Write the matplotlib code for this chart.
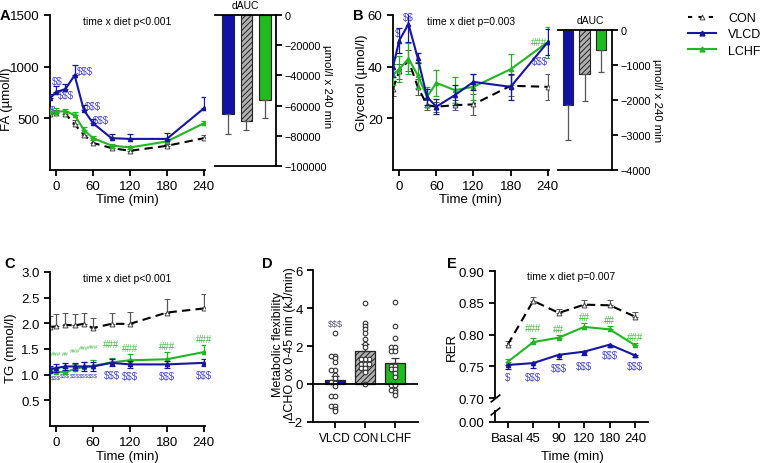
import numpy as np
import matplotlib
matplotlib.use("Agg")
import matplotlib.pyplot as plt
from matplotlib.lines import Line2D

plt.rcParams['font.family'] = ['Liberation Sans', 'DejaVu Sans']
plt.rcParams['font.size'] = 9.5
plt.rcParams['axes.linewidth'] = 1.3
plt.rcParams['xtick.major.width'] = 1.3
plt.rcParams['ytick.major.width'] = 1.3
plt.rcParams['xtick.major.size'] = 4
plt.rcParams['ytick.major.size'] = 4
plt.rcParams['xtick.labelsize'] = 9.5
plt.rcParams['ytick.labelsize'] = 9.5
plt.rcParams['hatch.linewidth'] = 0.7
plt.rcParams['text.parse_math'] = False

# ---- data ----
time = [-10, 0, 15, 30, 45, 60, 90, 120, 180, 240]
groups = ['VLCD', 'CON', 'LCHF']

fa_con = [545, 555, 545, 442, 340, 262, 212, 186, 234, 308]
fa_con_err = [30, 30, 25, 40, 25, 25, 20, 15, 15, 30]
fa_vlcd = [692, 756, 782, 917, 580, 452, 308, 301, 301, 596]
fa_vlcd_err = [40, 60, 55, 100, 45, 40, 40, 45, 60, 110]
fa_lchf = [558, 564, 570, 532, 388, 308, 237, 218, 276, 452]
fa_lchf_err = [30, 35, 20, 30, 25, 20, 15, 15, 20, 20]
fa_auc = [-65500, -70000, -56000]          # VLCD, CON, LCHF
fa_auc_err = [13500, 6000, 12000]

gly_con = [31.5, 38.2, 42.4, 32.2, 25.1, 24.5, 25.1, 25.4, 32.6, 32.2]
gly_con_err = [3, 3, 4, 3, 2, 2, 2, 4, 4, 5]
gly_vlcd = [39.9, 50.1, 56.5, 43.3, 28.3, 24.5, 29.0, 34.1, 32.2, 49.5]
gly_vlcd_err = [4, 5, 7, 2, 3, 3, 4, 3, 5, 5]
gly_lchf = [36.9, 39.0, 43.1, 36.7, 28.3, 33.7, 30.9, 32.2, 39.0, 49.5]
gly_lchf_err = [4, 5, 6, 5, 4, 5, 5, 5, 6, 6]
gly_auc = [-2140, -1260, -570]
gly_auc_err = [1000, 770, 630]

tg_con = [1.93, 1.94, 1.97, 1.96, 1.99, 1.91, 1.99, 1.99, 2.21, 2.29]
tg_con_err = [0.22, 0.24, 0.24, 0.22, 0.22, 0.20, 0.22, 0.24, 0.26, 0.28]
tg_vlcd = [1.10, 1.13, 1.16, 1.16, 1.16, 1.16, 1.23, 1.20, 1.20, 1.23]
tg_vlcd_err = [0.06, 0.07, 0.07, 0.07, 0.08, 0.08, 0.07, 0.07, 0.07, 0.07]
tg_lchf = [1.07, 1.05, 1.05, 1.11, 1.15, 1.17, 1.24, 1.28, 1.30, 1.44]
tg_lchf_err = [0.08, 0.08, 0.08, 0.10, 0.10, 0.12, 0.08, 0.12, 0.14, 0.14]

flex_vlcd = [2.68, 1.5, 1.5, 1.38, 1.15, 0.76, 0.76, 0.5, 0.32, 0.08, 0.04,
             -0.12, -0.65, -0.65, -1.18, -1.18, -1.32, -1.43]
flex_con = [4.25, 3.2, 3.03, 2.87, 2.7, 2.35, 2.12, 1.93, 1.32, 1.32, 1.32,
            1.06, 1.06, 1.06, 0.83, 0.83, 0.62, 0.0]
flex_lchf = [4.32, 3.05, 2.43, 1.94, 1.94, 1.76, 1.76, 0.93, 0.93, 0.8, 0.8,
             0.58, 0.35, -0.05, -0.05, -0.3, -0.3, -0.44, -0.56]
flex_mean = [0.23, 1.75, 1.08]
flex_err = [0.2, 0.33, 0.3]

rer_labels = ['Basal', '45', '90', '120', '180', '240']
rer_con = [0.784, 0.853, 0.834, 0.847, 0.846, 0.828]
rer_con_err = [0.006, 0.006, 0.006, 0.007, 0.008, 0.007]
rer_lchf = [0.757, 0.788, 0.795, 0.812, 0.808, 0.783]
rer_lchf_err = [0.005, 0.007, 0.005, 0.006, 0.005, 0.004]
rer_vlcd = [0.752, 0.755, 0.768, 0.773, 0.784, 0.767]
rer_vlcd_err = [0.006, 0.008, 0.006, 0.006, 0.004, 0.003]

# ---- styles ----
BLUE = '#16169e'
GREEN = '#22b622'
BAR_BLUE = '#1212a8'
BAR_GREEN = '#1fbb1f'
ANN_BLUE = '#4b4bd6'
ANN_GREEN = '#3cbf3c'
ERR_GRAY = '#555555'

W, H = 760, 464
fig = plt.figure(figsize=(W / 100, H / 100), dpi=100)


def box(l, t, r, b):
    return [l / W, 1 - b / H, (r - l) / W, (b - t) / H]


def ftext(x, y, s, **kw):
    fig.text(x / W, 1 - y / H, s, **kw)


def clean(ax):
    ax.spines['top'].set_visible(False)
    ax.spines['right'].set_visible(False)


def upper(err):
    return [np.zeros(len(err)), err]


def lower(err):
    return [err, np.zeros(len(err))]


def draw_lines(ax, x, con, con_e, vlcd, vlcd_e, lchf, lchf_e):
    ax.errorbar(x, con, yerr=con_e, color='black', ls=(0, (4, 2.5)), lw=1.5,
                marker='^', ms=3.5, mfc='white', mec='#444444', mew=0.7,
                ecolor=ERR_GRAY, elinewidth=0.9, capsize=2.2, capthick=0.9, zorder=2)
    ax.errorbar(x, lchf, yerr=lchf_e, color=GREEN, lw=1.5, marker='^', ms=3,
                ecolor=GREEN, elinewidth=0.9, capsize=2.2, capthick=0.9, zorder=3)
    ax.errorbar(x, vlcd, yerr=vlcd_e, color=BLUE, lw=1.5, marker='^', ms=3,
                ecolor=BLUE, elinewidth=0.9, capsize=2.2, capthick=0.9, zorder=4)


def annot(ax, x, y, s, dx, dy, color, size=7):
    ax.annotate(s, (x, y), xytext=(dx, dy), textcoords='offset pixels',
                ha='center', va='center', color=color, fontsize=size)


def auc_inset(ax, vals, errs, ticks, ylim):
    cols = [BAR_BLUE, '#b0b0b0', BAR_GREEN]
    hatches = [None, '//////', None]
    for i, (v, e) in enumerate(zip(vals, errs)):
        ax.bar(i, v, width=0.62, color=cols[i], edgecolor='#222222', lw=0.8,
               hatch=hatches[i], zorder=2)
        ax.errorbar(i, v, yerr=[[e], [0]], color=ERR_GRAY, elinewidth=0.9,
                    capsize=2.2, capthick=0.9, zorder=3)
    ax.set_ylim(ylim)
    ax.set_yticks(ticks)
    ax.yaxis.tick_right()
    ax.tick_params(axis='y', labelsize=7.8, pad=2)
    ax.set_xticks([])
    ax.spines['left'].set_visible(False)
    ax.spines['top'].set_visible(True)


# ---------------- A ----------------
axA = fig.add_axes(box(50, 16, 205, 171))
draw_lines(axA, time, fa_con, upper(fa_con_err), fa_vlcd, upper(fa_vlcd_err),
           fa_lchf, upper(fa_lchf_err))
axA.set_xlim(-10, 242)
axA.set_ylim(0, 1500)
axA.set_xticks([0, 60, 120, 180, 240])
axA.set_yticks([500, 1000, 1500])
clean(axA)
axA.set_title('time x diet p<0.001', fontsize=7.5, y=0.94, pad=0)
for i, s, dx, dy in [(0, '$', 3, -12), (1, '$$', 1, 11), (2, '$$$', 1, -6),
                     (3, '$$$', 10, 4), (4, '$$$', 9, 4), (5, '$$$', 8, 3)]:
    annot(axA, time[i], fa_vlcd[i], s, dx, dy, ANN_BLUE)

axAi = fig.add_axes(box(215, 16, 276, 167))
auc_inset(axAi, fa_auc, fa_auc_err, [0, -20000, -40000, -60000, -80000, -100000],
          (-100000, 0))
axAi.set_xlim(-0.7, 2.6)

# ---------------- B ----------------
axB = fig.add_axes(box(393, 16, 549, 171))
draw_lines(axB, time, gly_con, gly_con_err, gly_vlcd, gly_vlcd_err,
           gly_lchf, gly_lchf_err)
axB.set_xlim(-10, 242)
axB.set_ylim(0, 60)
axB.set_xticks([0, 60, 120, 180, 240])
axB.set_yticks([20, 40, 60])
clean(axB)
axB.set_title('time x diet p=0.003', fontsize=7.5, y=0.94, pad=0)
annot(axB, time[1], gly_vlcd[1], '$', -2, 8, ANN_BLUE)
annot(axB, time[2], gly_vlcd[2], '$$', 0, 7, ANN_BLUE)
annot(axB, time[9], gly_lchf[9], '###', -9, 0, ANN_GREEN)
annot(axB, time[9], gly_vlcd[9], '$$$', -8, -19, ANN_BLUE)

axBi = fig.add_axes(box(558, 31, 612, 171))
auc_inset(axBi, gly_auc, gly_auc_err, [0, -1000, -2000, -3000, -4000], (-4000, 0))
axBi.set_xlim(-0.6, 2.65)

# ---------------- C ----------------
axC = fig.add_axes(box(50, 273, 205, 427))
draw_lines(axC, time, tg_con, upper(tg_con_err), tg_vlcd, tg_vlcd_err,
           tg_lchf, upper(tg_lchf_err))
axC.set_xlim(-10, 242)
axC.set_ylim(0, 3.0)
axC.set_xticks([0, 60, 120, 180, 240])
axC.set_yticks([0.5, 1.0, 1.5, 2.0, 2.5, 3.0])
axC.set_yticklabels(['0.5', '1.0', '1.5', '2.0', '2.5', '3.0'])
clean(axC)
axC.set_title('time x diet p<0.001', fontsize=7.5, y=0.94, pad=0)
for i, s in zip([1, 2, 3, 4, 5], ['###', '##', '###', '###', '###']):
    annot(axC, time[i], tg_lchf[i], s, 0, 19, ANN_GREEN, size=4.4)
    annot(axC, time[i], tg_vlcd[i], '$$$', 0, -9, ANN_BLUE, size=4.4)
for i, dy in zip([6, 7, 8, 9], [18, 12, 13, 13]):
    annot(axC, time[i], tg_lchf[i], '###', 0, dy, ANN_GREEN)
    annot(axC, time[i], tg_vlcd[i], '$$$', 0, -12, ANN_BLUE)

# ---------------- D ----------------
axD = fig.add_axes(box(313, 271, 418, 423))
bar_cols = [BAR_BLUE, '#b0b0b0', BAR_GREEN]
for i, (m, e) in enumerate(zip(flex_mean, flex_err)):
    axD.bar(i, m, width=0.66, color=bar_cols[i], edgecolor='#222222', lw=0.9,
            hatch='//////' if i == 1 else None, zorder=2)
    axD.errorbar(i, m, yerr=[[0], [e]], color='#333333', elinewidth=0.9,
                 capsize=3, capthick=0.9, zorder=3)


def swarm(vals, width=0.13):
    # spread points that share nearly the same value sideways
    order = np.argsort(vals)
    prev, k = None, 0
    out = np.zeros(len(vals))
    for j in order:
        v = vals[j]
        if prev is not None and abs(v - prev) < 0.09:
            k += 1
        else:
            k = 0
        out[j] = [0, -1, 1, 0.0][k % 4] * width * (1 if k < 3 else 0.5)
        prev = v
    return out


for i, pts in enumerate([flex_vlcd, flex_con, flex_lchf]):
    dx = swarm(pts)
    axD.scatter(i + dx, pts, s=11, facecolor='white', edgecolor='#333333',
                lw=0.8, zorder=4)
axD.axhline(0, color='black', lw=1.3, zorder=5)
axD.set_xlim(-0.73, 2.75)
axD.set_ylim(-2, 6)
axD.set_yticks([-2, 0, 2, 4, 6])
axD.set_xticks([0, 1, 2])
axD.set_xticklabels(groups, fontsize=8.6)
clean(axD)
axD.text(0, 3.2, '$$$', ha='center', va='center', fontsize=6.5, color='#555577')

# ---------------- E ----------------
axE = fig.add_axes(box(495, 272, 648, 399))
axE2 = fig.add_axes(box(495, 412, 648, 423))
xr = np.arange(len(rer_labels))
draw_lines(axE, xr, rer_con, upper(rer_con_err), rer_vlcd, lower(rer_vlcd_err),
           rer_lchf, upper(rer_lchf_err))
axE.set_xlim(-0.5, 5.5)
axE.set_ylim(0.70, 0.90)
axE.set_yticks([0.70, 0.75, 0.80, 0.85, 0.90])
axE.set_yticklabels(['0.70', '0.75', '0.80', '0.85', '0.90'])
axE.set_xticks([])
clean(axE)
axE.spines['bottom'].set_visible(False)
axE.set_title('time x diet p=0.007', fontsize=7.5, y=0.935, pad=0)
for i, s, dy in [(1, '###', 14), (2, '##', 9), (3, '##', 10), (4, '##', 9), (5, '###', 8)]:
    annot(axE, xr[i], rer_lchf[i], s, 0, dy, ANN_GREEN)
for i, s, dy in [(0, '$', -12), (1, '$$$', -14), (2, '$$$', -13), (3, '$$$', -14),
                 (4, '$$$', -10), (5, '$$$', -11)]:
    annot(axE, xr[i], rer_vlcd[i], s, 0, dy, ANN_BLUE)

axE2.set_xlim(-0.5, 5.5)
axE2.set_ylim(0, 1)
axE2.set_yticks([0])
axE2.set_yticklabels(['0.00'])
axE2.set_xticks(xr)
axE2.set_xticklabels(rer_labels)
clean(axE2)
axE2.patch.set_alpha(0)
brk = dict(marker=[(-1, -0.8), (1, 0.8)], markersize=7, linestyle='none',
           color='k', mec='k', mew=1.2, clip_on=False)
axE.plot([0], [0], transform=axE.transAxes, **brk)
axE2.plot([0], [1], transform=axE2.transAxes, **brk)

# ---------------- labels ----------------
for x, y, s in [(5, 16, 'A'), (358, 16, 'B'), (10, 264, 'C'), (267, 264, 'D'),
                (452, 264, 'E')]:
    ftext(x, y, s, fontsize=10.5, fontweight='bold', ha='center', va='center')

ftext(7, 99, 'FA (µmol/l)', rotation=90, ha='center', va='center')
ftext(362, 83, 'Glycerol (µmol/l)', rotation=90, ha='center', va='center')
ftext(11, 348, 'TG (mmol/l)', rotation=90, ha='center', va='center')
ftext(284, 344, 'Metabolic flexibility\nΔCHO ox 0-45 min (kJ/min)', rotation=90,
      ha='center', va='center', multialignment='center', linespacing=0.95,
      fontsize=9)
ftext(452, 347, 'RER', rotation=90, ha='center', va='center')
ftext(327, 87, 'µmol/l x 240 min', rotation=270, ha='center', va='center', fontsize=8.2)
ftext(657, 101, 'µmol/l x 240 min', rotation=270, ha='center', va='center', fontsize=8.2)
ftext(245, 6, 'dAUC', ha='center', va='center', fontsize=7.5)
ftext(590, 21, 'dAUC', ha='center', va='center', fontsize=7.5)
ftext(127, 200, 'Time (min)', ha='center', va='center')
ftext(470, 200, 'Time (min)', ha='center', va='center')
ftext(127, 457, 'Time (min)', ha='center', va='center')
ftext(572, 457, 'Time (min)', ha='center', va='center')

handles = [
    Line2D([], [], color='black', ls=(0, (2, 3)), lw=1.5, marker='^', ms=3.5,
           mfc='white', mec='#444444', mew=0.7),
    Line2D([], [], color=BLUE, lw=1.5, marker='^', ms=3.5),
    Line2D([], [], color=GREEN, lw=1.5, marker='^', ms=3.5),
]
fig.legend(handles, ['CON', 'VLCD', 'LCHF'], loc='upper left',
           bbox_to_anchor=(688 / W, 1 - 13 / H), frameon=False, fontsize=9,
           handlelength=2.2, labelspacing=0.35, borderaxespad=0, borderpad=0,
           handletextpad=1.0)

fig.savefig('out.png', dpi=100)
